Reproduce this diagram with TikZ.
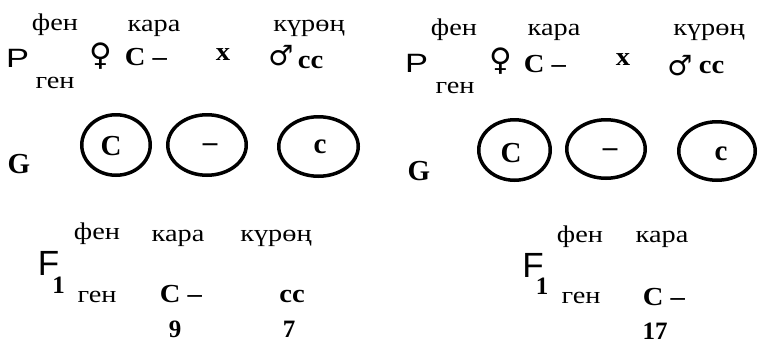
\documentclass[tikz,border=0pt]{standalone}
\usepackage{fontspec}
\setmainfont{Liberation Serif}
\newfontfamily\lblf[FakeStretch=1.18]{Liberation Serif}
\newfontfamily\genf[FakeStretch=1.1]{Liberation Serif}
\newfontfamily\sansf{Liberation Sans}
\newfontfamily\symf{DejaVu Sans}
\usetikzlibrary{shapes.geometric}
\begin{document}
\begin{tikzpicture}[x=1pt,y=-1pt,
 lbl/.style={inner sep=0pt, anchor=base, font=\fontsize{24}{28}\lblf},
 gen/.style={inner sep=0pt, anchor=base, font=\fontsize{26}{30}\genf\bfseries},
 num/.style={inner sep=0pt, anchor=base, font=\fontsize{25}{30}\selectfont\bfseries},
 gbig/.style={inner sep=0pt, anchor=base, font=\fontsize{29}{32}\selectfont\bfseries},
 bigP/.style={inner sep=0pt, anchor=base, font=\fontsize{26.5}{30}\sansf},
 bigF/.style={inner sep=0pt, anchor=base, font=\fontsize{35}{38}\sansf},
 sub/.style={inner sep=0pt, anchor=base, font=\fontsize{25}{28}\selectfont\bfseries},
 fem/.style={inner sep=0pt, anchor=center, font=\fontsize{31}{34}\symf},
 mal/.style={inner sep=0pt, anchor=center, font=\fontsize{28}{32}\symf},
 gam/.style={draw, ellipse, line width=3.5pt, inner sep=0pt}]
\useasboundingbox (0,0) rectangle (759,343);
% ---------- left panel ----------
\node[lbl] (lfen) at (55,30) {фен};
\node[lbl] (lkara) at (154,31) {кара};
\node[lbl] (lkur) at (309,31) {күрөң};
\node[bigP] (lP) at (17.5,67) {\scalebox{1.3}[1]{P}};
\node[lbl] (lgen) at (55,88) {ген};
\node[fem] (lfem) at (101,56.5) {♀};
\node[gen] (lCd) at (146,65) {C –};
\node[gen] (lx) at (223,60) {x};
\node[mal] (lmal) at (281,56) {♂};
\node[gen] (lcc) at (310.5,68) {cc};
\node[gbig] (lG) at (19,173) {G};
\node[gam, minimum width=68.5pt, minimum height=60.5pt] (le1) at (116,145) {};
\node[gam, minimum width=78.5pt, minimum height=60.5pt] (le2) at (207,145) {};
\node[gam, minimum width=79.5pt, minimum height=59.5pt] (le3) at (318.5,146.5) {};
\node[gbig] (lgC) at (111,155) {C};
\node[gbig, anchor=center] (lgd) at (210,148) {–};
\node[gbig] (lgc) at (320,153) {c};
\node[bigF] (lF) at (48.5,275) {F};
\node[sub] (l1) at (58.5,293) {1};
\node[lbl] (lffen) at (97,239) {фен};
\node[lbl] (lfkara) at (178,241) {кара};
\node[lbl] (lfkur) at (276,241) {күрөң};
\node[lbl] (lfgen) at (97,302) {ген};
\node[gen] (lfCd) at (181,302) {C –};
\node[gen] (lfcc) at (292,302) {cc};
\node[num] (l9) at (175,337) {9};
\node[num] (l7) at (289,337) {7};
% ---------- right panel ----------
\node[lbl] (rfen) at (454,35) {фен};
\node[lbl] (rkara) at (554,35) {кара};
\node[lbl] (rkur) at (709,35) {күрөң};
\node[bigP] (rP) at (416.5,72) {\scalebox{1.3}[1]{P}};
\node[lbl] (rgen) at (455,93) {ген};
\node[fem] (rfem) at (501,61.5) {♀};
\node[gen] (rCd) at (545,72) {C –};
\node[gen] (rx) at (623,65) {x};
\node[mal] (rmal) at (680,65.5) {♂};
\node[gen] (rcc) at (711.5,73) {cc};
\node[gbig] (rG) at (419,180) {G};
\node[gam, minimum width=71.5pt, minimum height=60.5pt] (re1) at (514.5,150) {};
\node[gam, minimum width=78.5pt, minimum height=58.5pt] (re2) at (606,149) {};
\node[gam, minimum width=76.5pt, minimum height=58.5pt] (re3) at (717,151) {};
\node[gbig] (rgC) at (511,162) {C};
\node[gbig, anchor=center] (rgd) at (610,153) {–};
\node[gbig] (rgc) at (721,160) {c};
\node[bigF] (rF) at (533,277) {F};
\node[sub] (r1) at (542,294) {1};
\node[lbl] (rffen) at (580,242) {фен};
\node[lbl] (rfkara) at (662,242) {кара};
\node[lbl] (rfgen) at (581,303) {ген};
\node[gen] (rfCd) at (664,305) {C –};
\node[num] (r17) at (655,339) {17};
\end{tikzpicture}
\end{document}
